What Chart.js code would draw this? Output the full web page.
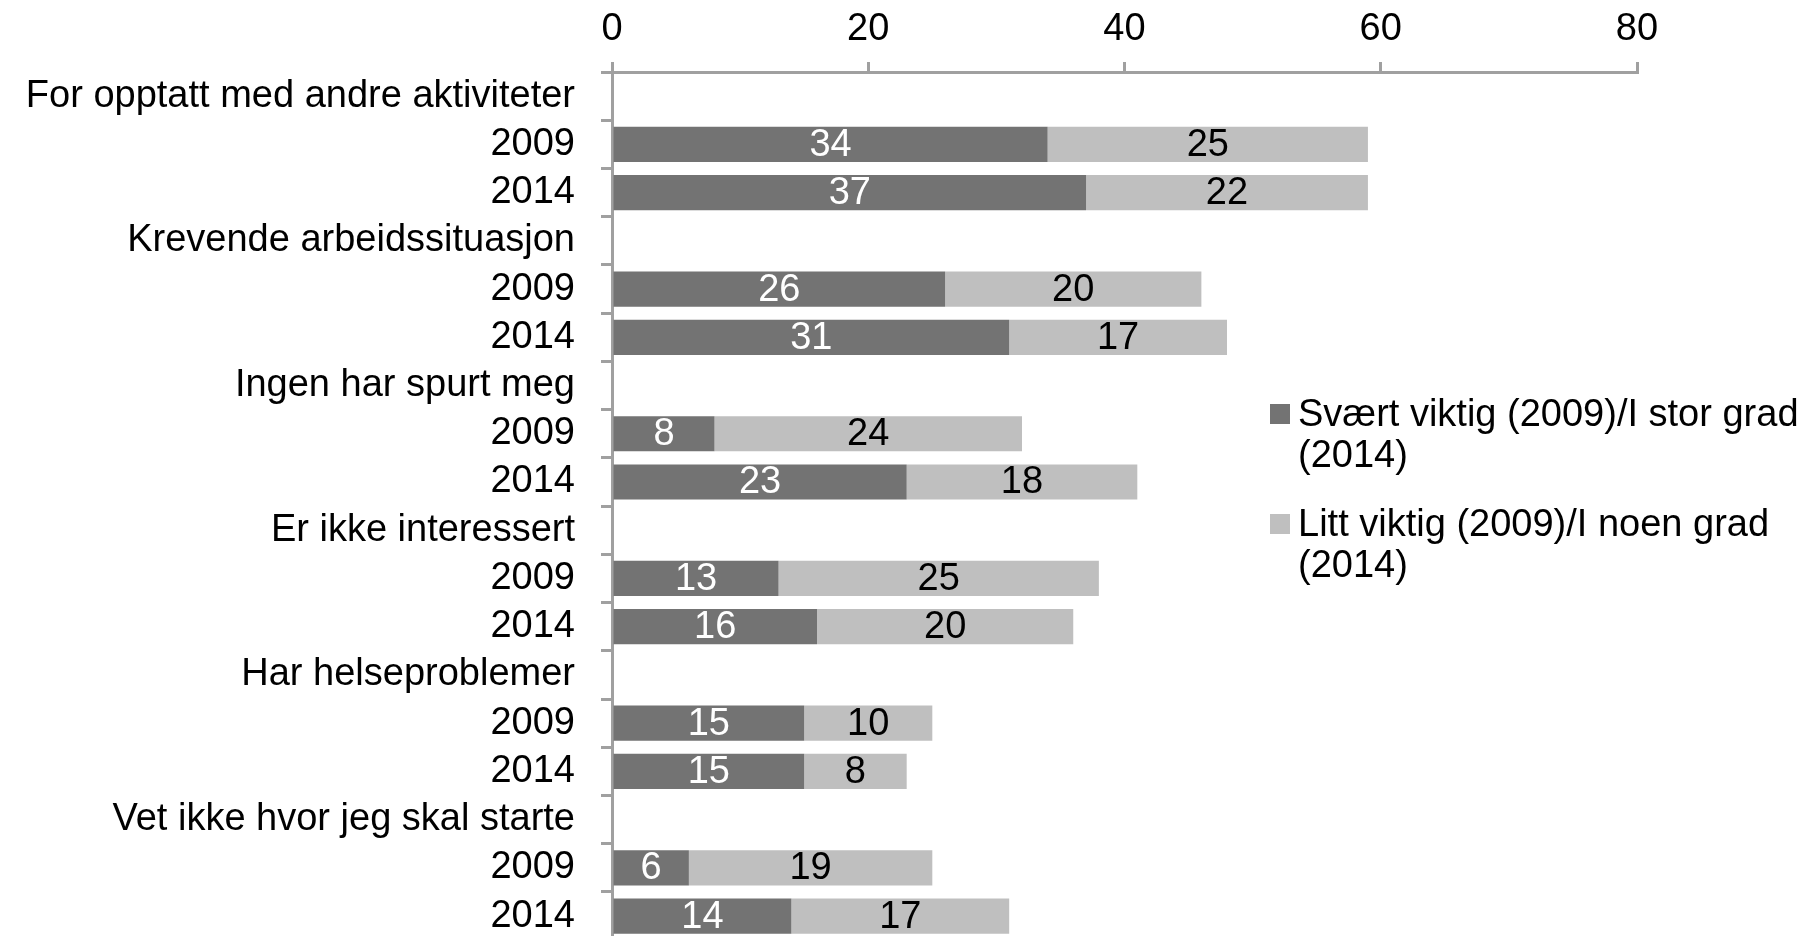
<!DOCTYPE html>
<html>
<head>
<meta charset="utf-8">
<script src="https://cdn.jsdelivr.net/npm/chart.js@4/dist/chart.umd.min.js"></script>
<style>
  html, body { margin: 0; padding: 0; background: #fff; overflow: hidden; }
  #wrap { position: relative; width: 1814px; height: 936px; overflow: hidden; }
  #legend { position: absolute; left: 1270px; top: 393px; font: 38px "Liberation Sans", Arial, sans-serif; color: #000; line-height: 41px; }
  .item { position: relative; padding-left: 28px; margin-bottom: 28px; }
  .sw { position: absolute; left: 0; top: 11px; width: 20px; height: 20px; }
</style>
</head>
<body>
<div id="wrap">
  <canvas id="chart" width="1814" height="989"></canvas>
  <div id="legend"></div>
</div>
<script>
const groups  = ["For opptatt med andre aktiviteter", "Krevende arbeidssituasjon", "Ingen har spurt meg",
                 "Er ikke interessert", "Har helseproblemer", "Vet ikke hvor jeg skal starte"];
const years   = ["2009", "2014"];
const strong  = [34, 37, 26, 31, 8, 23, 13, 16, 15, 15, 6, 14];   // Svært viktig / I stor grad
const some    = [25, 22, 20, 17, 24, 18, 25, 20, 10, 8, 19, 17];  // Litt viktig / I noen grad
const xTicks  = [0, 20, 40, 60, 80];
const seriesNames = [["Svært viktig (2009)/I stor grad", "(2014)"], ["Litt viktig (2009)/I noen grad", "(2014)"]];

const DARK = "#737373", LIGHT = "#bfbfbf", AXIS = "#a0a0a0";
const FONT = '"Liberation Sans", Arial, sans-serif';

// header row for each group, then one row per year
const labels = [], darkData = [], lightData = [];
groups.forEach((g, gi) => {
  labels.push(g); darkData.push(null); lightData.push(null);
  years.forEach((y, yi) => {
    labels.push(y);
    darkData.push(strong[gi * 2 + yi]);
    lightData.push(some[gi * 2 + yi]);
  });
});

const valueLabels = {
  id: "valueLabels",
  afterDatasetsDraw(chart) {
    const ctx = chart.ctx;
    ctx.save();
    ctx.font = `38px ${FONT}`;
    ctx.textAlign = "center";
    ctx.textBaseline = "middle";
    chart.data.datasets.forEach((ds, i) => {
      chart.getDatasetMeta(i).data.forEach((bar, j) => {
        const v = ds.data[j];
        if (v == null) return;
        const { x, y, base } = bar.getProps(["x", "y", "base"], true);
        ctx.fillStyle = i === 0 ? "#fff" : "#000";
        ctx.fillText(v, (x + base) / 2, y + 1);
      });
    });
    ctx.restore();
  }
};

new Chart(document.getElementById("chart"), {
  type: "bar",
  data: {
    labels,
    datasets: [
      { label: seriesNames[0].join(" "), data: darkData,  backgroundColor: DARK },
      { label: seriesNames[1].join(" "), data: lightData, backgroundColor: LIGHT },
    ],
  },
  options: {
    indexAxis: "y",
    responsive: false,
    animation: false,
    barPercentage: 0.73,
    categoryPercentage: 1,
    layout: { padding: { left: 0, right: 177, top: 0, bottom: 0 } },
    plugins: { legend: { display: false }, tooltip: { enabled: false } },
    scales: {
      x: {
        position: "top",
        stacked: true,
        min: 0, max: 80,
        afterBuildTicks: s => { s.ticks = xTicks.map(v => ({ value: v })); },
        afterFit: s => { s.height = 72; },
        ticks: { color: "#000", font: { family: FONT, size: 38 }, padding: 10, maxRotation: 0 },
        grid: { drawOnChartArea: false, color: AXIS, lineWidth: 3, tickLength: 10 },
        border: { color: AXIS, width: 3 },
      },
      y: {
        stacked: true,
        afterFit: s => { s.width = 612; },
        ticks: { color: "#000", font: { family: FONT, size: 38 }, padding: 26, autoSkip: false },
        grid: { drawOnChartArea: false, color: AXIS, lineWidth: 3, tickLength: 11, offset: true },
        border: { color: AXIS, width: 3 },
      },
    },
  },
  plugins: [valueLabels],
});

const colors = [DARK, LIGHT];
document.getElementById("legend").innerHTML = seriesNames.map((lines, i) =>
  `<div class="item"><span class="sw" style="background:${colors[i]}"></span>${lines.join("<br>")}</div>`
).join("");
</script>
</body>
</html>
